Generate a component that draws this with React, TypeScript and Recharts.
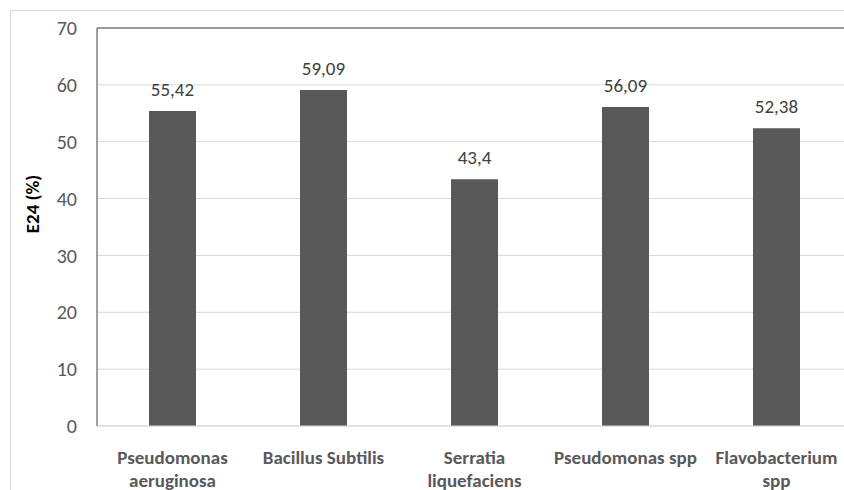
import { BarChart, Bar, XAxis, YAxis, CartesianGrid, LabelList, ReferenceLine } from "recharts";

// category labels, split into the lines they are drawn on
const strains = [
  "Pseudomonas aeruginosa",
  "Bacillus Subtilis",
  "Serratia liquefaciens",
  "Pseudomonas spp",
  "Flavobacterium spp",
];
const strainLines = [
  ["Pseudomonas", "aeruginosa"],
  ["Bacillus Subtilis"],
  ["Serratia", "liquefaciens"],
  ["Pseudomonas spp"],
  ["Flavobacterium", "spp"],
];
const e24 = [55.42, 59.09, 43.4, 56.09, 52.38];
const yTicks = [0, 10, 20, 30, 40, 50, 60, 70];

const data = strains.map((name, i) => ({ name, lines: strainLines[i], e24: e24[i] }));

const FONT = "Carlito, Calibri, 'Open Sans', sans-serif";

function StrainTick({ x, y, index }: any) {
  const lines = strainLines[index] || [];
  return (
    <text x={x} y={y} textAnchor="middle" fill="#595959" fontFamily={FONT} fontSize={19} fontWeight={700}>
      {lines.map((l, i) => (
        <tspan key={i} x={x} y={y + 30 + i * 23}>
          {l}
        </tspan>
      ))}
    </text>
  );
}

export default function App() {
  return (
    <div
      style={{
        position: "absolute",
        left: 0,
        top: 0,
        width: 844,
        height: 490,
        overflow: "hidden",
        background: "#fff",
      }}
    >
      {/* outer frame */}
      <div
        style={{
          position: "absolute",
          left: 10,
          top: 10,
          width: 900,
          height: 600,
          borderLeft: "1.5px solid #d9d9d9",
          borderTop: "1.5px solid #d9d9d9",
        }}
      />
      <div style={{ position: "absolute", left: 0, top: 0 }}>
        <BarChart width={870} height={490} data={data} margin={{ top: 28, right: 18, left: 0, bottom: 0 }}>
          <CartesianGrid vertical={false} stroke="#d9d9d9" />
          <XAxis
            dataKey="name"
            height={64}
            interval={0}
            axisLine={{ stroke: "#d9d9d9" }}
            tickLine={false}
            tick={<StrainTick />}
          />
          <YAxis
            width={97}
            domain={[0, 70]}
            ticks={yTicks}
            axisLine={{ stroke: "#808080", strokeWidth: 1.5 }}
            tickLine={false}
            tickSize={0}
            tickMargin={20}
            tick={{ fill: "#595959", fontSize: 20, fontFamily: FONT }}
            label={{
              value: "E24 (%)",
              angle: -90,
              position: "insideLeft",
              dx: 27,
              dy: -23,
              style: { fill: "#000", fontSize: 19, fontWeight: 700, fontFamily: FONT, textAnchor: "middle" },
            }}
          />
          <ReferenceLine y={70} stroke="#808080" strokeWidth={1.5} />
          <Bar dataKey="e24" fill="#595959" barSize={47} isAnimationActive={false}>
            <LabelList
              dataKey="e24"
              position="top"
              offset={15}
              formatter={(v: any) => String(v).replace(".", ",")}
              style={{ fill: "#404040", fontSize: 19, fontFamily: FONT }}
            />
          </Bar>
        </BarChart>
      </div>
    </div>
  );
}
